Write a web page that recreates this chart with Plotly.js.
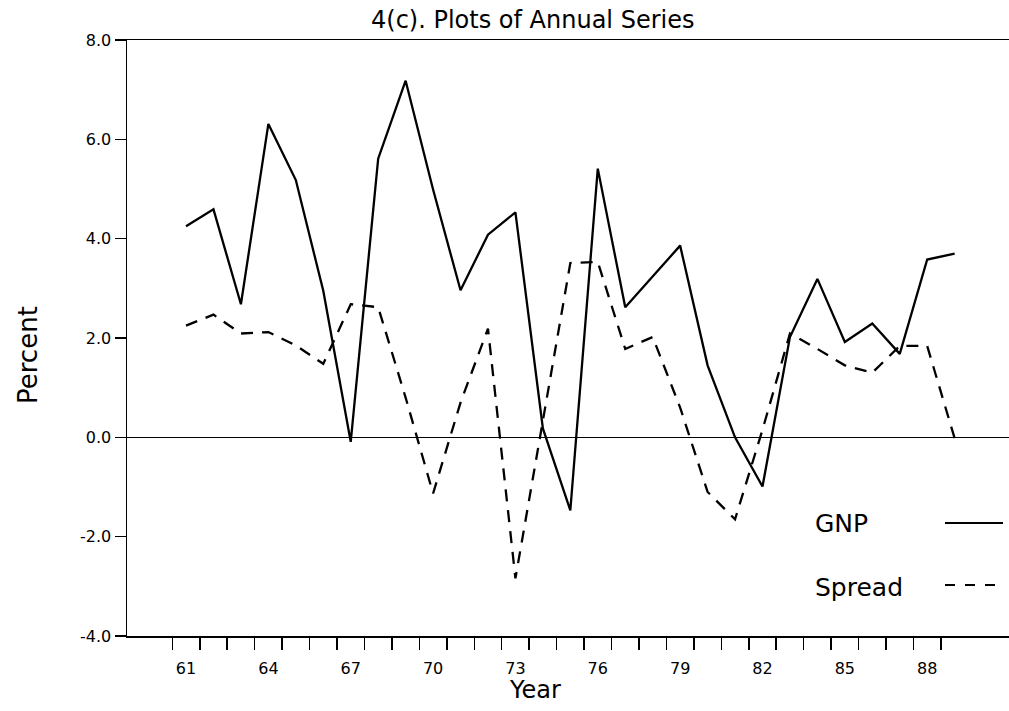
<!DOCTYPE html>
<html>
<head>
<meta charset="utf-8">
<script src="https://cdn.plot.ly/plotly-3.0.1.min.js"></script>
<style>html,body{margin:0;padding:0;background:#fff;}#chart{width:1009px;height:711px;}</style>
</head>
<body>
<div id="chart"></div>
<script>
const years = [61,62,63,64,65,66,67,68,69,70,71,72,73,74,75,76,77,78,79,80,81,82,83,84,85,86,87,88,89];
const gnp = [4.25,4.59,2.68,6.31,5.18,2.95,-0.09,5.61,7.18,4.99,2.96,4.08,4.53,0.18,-1.47,5.41,2.62,3.25,3.86,1.45,0.0,-0.99,2.02,3.19,1.92,2.29,1.68,3.58,3.70];
const spread = [2.25,2.47,2.09,2.12,1.85,1.48,2.68,2.62,0.8,-1.13,0.7,2.19,-2.84,0.3,3.51,3.53,1.78,2.02,0.6,-1.10,-1.65,0.15,2.09,1.78,1.45,1.30,1.84,1.84,-0.02];
const tickYears = [61,64,67,70,73,76,79,82,85,88];
const tickLabels = ['61','64','67','70','73','76','79','82','85','88'];
const yTicks = [-4,-2,0,2,4,6,8];
const yTickLabels = ['-4.0','-2.0','0.0','2.0','4.0','6.0','8.0'];
const boundaries = years.map(y => y - 0.5);

const FONT = 'DejaVu Sans, sans-serif';

const traces = [
  {x: years, y: gnp, name: 'GNP', type: 'scatter', mode: 'lines',
   line: {color: '#000', width: 2.3}},
  {x: years, y: spread, name: 'Spread', type: 'scatter', mode: 'lines',
   line: {color: '#000', width: 2.3, dash: '12px,9px'}}
];

const layout = {
  width: 1009, height: 711,
  margin: {l: 127, r: 0, t: 40, b: 75},
  paper_bgcolor: '#fff', plot_bgcolor: '#fff',
  showlegend: false,
  font: {family: FONT, color: '#000'},
  title: {text: '4(c). Plots of Annual Series', x: 0.528, xanchor: 'center', y: 0.972, yanchor: 'middle',
          font: {family: FONT, size: 24, color: '#000'}},
  xaxis: {
    range: [58.85, 90.98],
    showgrid: false, zeroline: false,
    showline: true, linecolor: '#000', linewidth: 1.5, mirror: true,
    tickmode: 'array', tickvals: tickYears, ticktext: tickLabels,
    ticks: '', ticklabelstandoff: 17,
    tickfont: {family: FONT, size: 16, color: '#000'},
    minor: {tickmode: 'array', tickvals: boundaries, ticks: 'outside', ticklen: 12, tickwidth: 1.5, tickcolor: '#000', showgrid: false}
  },
  yaxis: {
    range: [-4, 8],
    showgrid: false,
    zeroline: true, zerolinecolor: '#000', zerolinewidth: 1.5,
    showline: true, linecolor: '#000', linewidth: 1.5,
    tickmode: 'array', tickvals: yTicks, ticktext: yTickLabels,
    ticks: 'outside', ticklen: 11, tickwidth: 1.5, tickcolor: '#000',
    tickfont: {family: FONT, size: 16, color: '#000'}
  },
  annotations: [
    {text: 'Year', xref: 'paper', yref: 'paper', x: (535-127)/882, y: -(690-636)/596,
     xanchor: 'center', yanchor: 'middle', showarrow: false, font: {family: FONT, size: 24, color: '#000'}},
    {text: 'Percent', xref: 'paper', yref: 'paper', x: -(127-28)/882, y: (636-355)/596, textangle: -90,
     xanchor: 'center', yanchor: 'middle', showarrow: false, font: {family: FONT, size: 26, color: '#000'}},
    {text: 'GNP', xref: 'paper', yref: 'paper', x: (813-127)/882, y: (636-523)/596,
     xanchor: 'left', yanchor: 'middle', showarrow: false, font: {family: FONT, size: 25, color: '#000'}},
    {text: 'Spread', xref: 'paper', yref: 'paper', x: (813-127)/882, y: (636-587)/596,
     xanchor: 'left', yanchor: 'middle', showarrow: false, font: {family: FONT, size: 25, color: '#000'}}
  ],
  shapes: [
    {type: 'line', xref: 'paper', yref: 'paper', x0: (945-127)/882, x1: (1003-127)/882,
     y0: (636-523)/596, y1: (636-523)/596, line: {color: '#000', width: 2}},
    {type: 'line', xref: 'paper', yref: 'paper', x0: (945-127)/882, x1: (1003-127)/882,
     y0: (636-585)/596, y1: (636-585)/596, line: {color: '#000', width: 2, dash: '10px,10px'}}
  ]
};

Plotly.newPlot('chart', traces, layout, {staticPlot: true, displayModeBar: false});
</script>
</body>
</html>
